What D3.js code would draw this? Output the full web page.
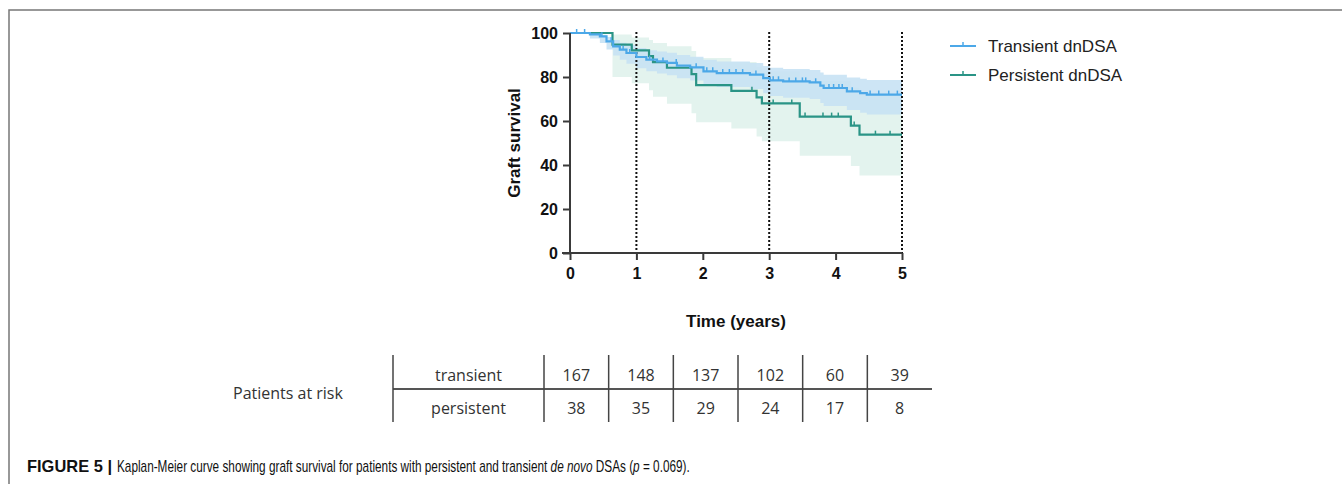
<!DOCTYPE html>
<html><head><meta charset="utf-8">
<script src="https://cdn.jsdelivr.net/npm/d3@7"></script>
<style>
html,body{margin:0;padding:0;background:#fff;}
svg{display:block;}
</style></head>
<body>
<svg id="chart" width="1342" height="484"></svg>
<script>
// ---------- DATA ----------
const xTicks = [0, 1, 2, 3, 4, 5];
const yTicks = [0, 20, 40, 60, 80, 100];
const refLines = [1, 3, 5];
const seriesNames = ["Transient dnDSA", "Persistent dnDSA"];

// Transient dnDSA Kaplan-Meier steps [time (years), survival %]
const transientTime = [0, 0.30, 0.45, 0.55, 0.65, 0.75, 0.85, 1.00, 1.15, 1.31, 1.46, 1.61, 1.81, 2.01, 2.21, 2.71, 2.91, 3.01, 3.21, 3.61, 3.77, 3.82, 4.17, 4.37, 4.47, 5];
const transientSurv = [100, 99.4, 98.5, 96.2, 93.9, 92.4, 90.9, 89.1, 87.9, 87.1, 86.4, 85.2, 84.4, 82.6, 81.8, 81.1, 79.5, 78.5, 78.0, 77.6, 76.1, 75.0, 73.5, 72.7, 72.0, 72.0];
const transientUpper = [100, 99.8, 99.2, 98.2, 96.8, 95.6, 94.6, 93.2, 92.2, 91.6, 91.0, 90.0, 89.2, 87.8, 87.0, 86.4, 85.0, 84.2, 83.6, 83.2, 82.0, 81.0, 79.8, 79.2, 78.6, 78.6];
const transientLower = [100, 97.5, 95.5, 92.5, 89.8, 87.8, 86.0, 84.0, 82.6, 81.6, 80.8, 79.4, 78.4, 76.4, 75.5, 74.6, 72.6, 71.4, 70.6, 70.0, 68.2, 66.8, 65.0, 63.8, 62.9, 62.9];
const transientCensor = [0.10, 0.22, 0.48, 0.62, 0.80, 0.90, 1.20, 1.40, 1.60, 1.90, 2.06, 2.15, 2.30, 2.40, 2.50, 2.60, 2.80, 3.06, 3.14, 3.30, 3.40, 3.50, 3.55, 3.70, 3.90, 3.97, 4.05, 4.10, 4.25, 4.52, 4.65, 4.80, 4.93];

// Persistent dnDSA Kaplan-Meier steps
const persistentTime = [0, 0.64, 0.93, 1.19, 1.25, 1.46, 1.83, 1.90, 2.43, 2.81, 2.89, 3.46, 4.23, 4.36, 5];
const persistentSurv = [100, 94.7, 92.1, 89.5, 86.8, 84.2, 81.3, 76.3, 73.7, 70.7, 68.0, 62.0, 57.9, 53.8, 53.8];
const persistentUpper = [100, 99.3, 98.0, 96.8, 95.4, 94.0, 91.8, 88.6, 86.8, 84.6, 82.6, 78.2, 75.2, 72.0, 72.0];
const persistentLower = [100, 80.0, 77.2, 74.0, 71.0, 67.8, 63.5, 59.4, 56.6, 53.0, 50.8, 44.2, 39.5, 35.2, 35.2];
const persistentCensor = [2.74, 3.06, 3.34, 3.54, 3.81, 3.94, 4.04, 4.28, 4.60, 4.82];

// Patients at risk table
const riskRows = ["transient", "persistent"];
const riskTransient = [167, 148, 137, 102, 60, 39];
const riskPersistent = [38, 35, 29, 24, 17, 8];

// Caption pieces
const captionBold = "FIGURE 5 |";
const captionParts = [
  {text: "Kaplan-Meier curve showing graft survival for patients with persistent and transient ", italic: false},
  {text: "de novo", italic: true},
  {text: " DSAs (", italic: false},
  {text: "p", italic: true},
  {text: " = 0.069).", italic: false}
];

// ---------- DRAW ----------
const svg = d3.select("#chart");
const colBlue = "#4ca8e8", colTeal = "#2a9486";
const bandBlue = "#c6e1f4", bandTeal = "#e3f3ee";
const sans = "Liberation Sans, Arial, sans-serif";

// frame
svg.append("path").attr("d", "M9,484 L9,10 L1342,10").attr("fill", "none")
  .attr("stroke", "#777").attr("stroke-width", 1.5);

const x = d3.scaleLinear().domain([0, 5]).range([570, 902]);
const y = d3.scaleLinear().domain([0, 100]).range([253, 33]);

function mk(time, s, lo, up) { return time.map((t, i) => ({t, s: s[i], lo: lo[i], up: up[i]})); }
const trans = mk(transientTime, transientSurv, transientLower, transientUpper);
const pers = mk(persistentTime, persistentSurv, persistentLower, persistentUpper);

const area = d3.area().x(d => x(d.t)).y0(d => y(d.lo)).y1(d => y(d.up)).curve(d3.curveStepAfter);
const line = d3.line().x(d => x(d.t)).y(d => y(d.s)).curve(d3.curveStepAfter);

svg.append("path").datum(pers).attr("d", area).attr("fill", bandTeal);
svg.append("path").datum(trans).attr("d", area).attr("fill", bandBlue).attr("fill-opacity", 0.88);

// reference dotted lines
svg.selectAll(".ref").data(refLines).enter().append("line")
  .attr("x1", d => x(d)).attr("x2", d => x(d)).attr("y1", y(100) - 1).attr("y2", y(0))
  .attr("stroke", "#111").attr("stroke-width", 2).attr("stroke-dasharray", "2,2");

svg.append("path").datum(pers).attr("d", line).attr("fill", "none").attr("stroke", colTeal).attr("stroke-width", 2.2);
svg.append("path").datum(trans).attr("d", line).attr("fill", "none").attr("stroke", colBlue).attr("stroke-width", 2.2);

function survAt(data, t) { let v = data[0].s; data.forEach(d => { if (d.t <= t) v = d.s; }); return v; }
function censors(data, times, col) {
  svg.selectAll(null).data(times).enter().append("line")
    .attr("x1", d => x(d)).attr("x2", d => x(d))
    .attr("y1", d => y(survAt(data, d))).attr("y2", d => y(survAt(data, d)) - 4)
    .attr("stroke", col).attr("stroke-width", 1.5);
}
censors(pers, persistentCensor, colTeal);
censors(trans, transientCensor, colBlue);

// axes
const xAxis = svg.append("g").attr("transform", `translate(0,${y(0)})`)
  .call(d3.axisBottom(x).tickValues(xTicks).tickSize(7).tickPadding(8).tickFormat(d3.format("d")));
const yAxis = svg.append("g").attr("transform", `translate(${x(0)},0)`)
  .call(d3.axisLeft(y).tickValues(yTicks).tickSize(7).tickPadding(5));
[xAxis, yAxis].forEach(g => {
  g.select(".domain").attr("stroke", "#3a3a3a").attr("stroke-width", 2);
  g.selectAll(".tick line").attr("stroke", "#3a3a3a").attr("stroke-width", 2);
  g.selectAll(".tick text").attr("font-family", sans)
    .attr("font-size", 16).attr("font-weight", "bold").attr("fill", "#111");
});
xAxis.select(".domain").attr("d", `M${x(0) - 8},0H${x(5)}`);
yAxis.select(".domain").attr("d", `M0,${y(0)}V${y(100)}`);

svg.append("text").attr("transform", `translate(520,${(y(0) + y(100)) / 2}) rotate(-90)`)
  .attr("text-anchor", "middle").attr("font-family", sans)
  .attr("font-size", 17).attr("font-weight", "bold").attr("fill", "#111").text("Graft survival");
svg.append("text").attr("x", (x(0) + x(5)) / 2).attr("y", 327)
  .attr("text-anchor", "middle").attr("font-family", sans)
  .attr("font-size", 17).attr("font-weight", "bold").attr("fill", "#111").text("Time (years)");

// legend
const legCols = [colBlue, colTeal];
const lg = svg.append("g");
seriesNames.forEach((n, i) => {
  const yy = 46 + i * 29;
  lg.append("line").attr("x1", 950).attr("x2", 976).attr("y1", yy).attr("y2", yy).attr("stroke", legCols[i]).attr("stroke-width", 2);
  lg.append("line").attr("x1", 963).attr("x2", 963).attr("y1", yy - 4).attr("y2", yy).attr("stroke", legCols[i]).attr("stroke-width", 1.5);
  lg.append("text").attr("x", 988).attr("y", yy + 6).attr("font-family", sans)
    .attr("font-size", 17).attr("fill", "#222").text(n);
});

// risk table
const tf = "'Open Sans', sans-serif";
const cols = d3.scaleBand().domain(xTicks).range([544, 932]);
const rowY = d3.scalePoint().domain(riskRows).range([381, 414]);
const tbl = svg.append("g");
tbl.append("text").attr("x", 233).attr("y", 399).attr("font-family", tf).attr("font-size", 16).attr("fill", "#333").text("Patients at risk");
tbl.append("line").attr("x1", 393).attr("x2", 932).attr("y1", 389).attr("y2", 389).attr("stroke", "#555").attr("stroke-width", 2);
const vlines = [393].concat(xTicks.map(t => cols(t)));
tbl.selectAll(null).data(vlines).enter().append("line")
  .attr("x1", d => d).attr("x2", d => d).attr("y1", 355).attr("y2", 422)
  .attr("stroke", "#444").attr("stroke-width", 1.5);
riskRows.forEach(r => {
  tbl.append("text").attr("x", (393 + cols(0)) / 2).attr("y", rowY(r)).attr("text-anchor", "middle")
    .attr("font-family", tf).attr("font-size", 16).attr("fill", "#333").text(r);
});
[riskTransient, riskPersistent].forEach((vals, ri) => {
  tbl.selectAll(null).data(vals).enter().append("text")
    .attr("x", (d, i) => cols(xTicks[i]) + cols.bandwidth() / 2).attr("y", rowY(riskRows[ri]))
    .attr("text-anchor", "middle").attr("font-family", tf).attr("font-size", 16).attr("fill", "#333").text(d => d);
});

// caption: bold label and body, each horizontally condensed by a group transform
const gB = svg.append("g");
const tB = gB.append("text").attr("x", 0).attr("y", 0).attr("font-family", sans).attr("font-size", 16)
  .attr("font-weight", "bold").attr("fill", "#111").text(captionBold);
const fb = (112 - 27) / tB.node().getComputedTextLength();
gB.attr("transform", `translate(27,472) scale(${fb},1)`);

const gR = svg.append("g");
const tR = gR.append("text").attr("x", 0).attr("y", 0).attr("font-family", sans)
  .attr("font-size", 16).attr("fill", "#111").style("white-space", "pre");
captionParts.forEach(p => tR.append("tspan").attr("font-style", p.italic ? "italic" : "normal").text(p.text));
const fr = (690 - 117) / tR.node().getComputedTextLength();
gR.attr("transform", `translate(117,472) scale(${fr},1)`);
</script>
</body></html>
